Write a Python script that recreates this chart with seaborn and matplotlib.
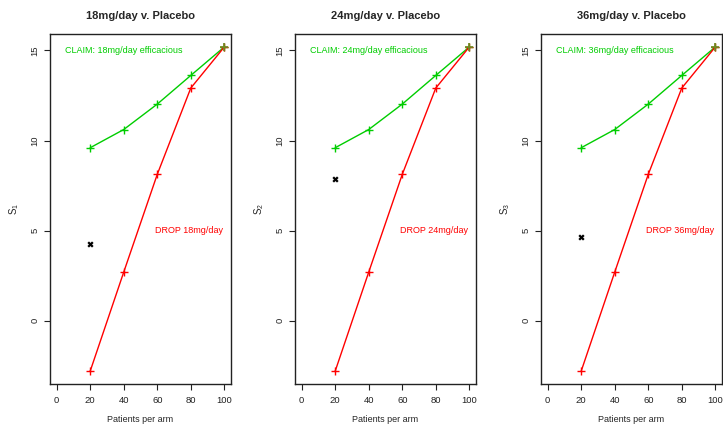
import matplotlib
matplotlib.use("Agg")
import matplotlib.pyplot as plt
import seaborn as sns
import pandas as pd

sns.set_style("ticks")
plt.rcParams['font.family'] = ['Liberation Sans', 'DejaVu Sans']

patients = [20, 40, 60, 80, 100]
claim_vals = [9.60, 10.61, 12.02, 13.61, 15.19]
drop_vals = [-2.79, 2.70, 8.12, 12.91, 15.19]
doses = ["18mg/day", "24mg/day", "36mg/day"]
observed_n = [20, 20, 20]
observed_s = [4.27, 7.89, 4.65]
ylabels = [r"$\mathregular{S_1}$", r"$\mathregular{S_2}$", r"$\mathregular{S_3}$"]
xticks = [0, 20, 40, 60, 80, 100]
yticks = [0, 5, 10, 15]

GREEN = "#00CD00"
RED = "#FF0000"

fig = plt.figure(figsize=(7.23, 4.25), dpi=100)
lefts = [50 / 723, 295 / 723, 541 / 723]
width = 181 / 723
bottom = 41 / 425
height = 350 / 425

df_claim = pd.DataFrame({"n": patients, "s": claim_vals})
df_drop = pd.DataFrame({"n": patients, "s": drop_vals})

for i, dose in enumerate(doses):
    ax = fig.add_axes([lefts[i], bottom, width, height])
    sns.lineplot(data=df_claim, x="n", y="s", ax=ax, color=GREEN, lw=1.0,
                 marker="+", markersize=6, mew=1.0, mec=GREEN)
    sns.lineplot(data=df_drop, x="n", y="s", ax=ax, color=RED, lw=1.0,
                 marker="+", markersize=6, mew=1.0, mec=RED)
    # overlap at final point (both colours)
    ax.plot([patients[-1]], [claim_vals[-1]], marker="+", color="#6B8E23",
            markersize=6, mew=1.2, ls="none")
    sns.scatterplot(x=[observed_n[i]], y=[observed_s[i]], ax=ax, marker="x",
                    color="black", s=11, linewidth=1.6)
    ax.set_xlim(-4, 104)
    ax.set_ylim(-3.51, 15.91)
    ax.set_xticks(xticks)
    ax.set_yticks(yticks)
    ax.tick_params(axis="both", labelsize=6.8, length=4.5, width=0.8,
                   colors="#222222", labelcolor="#222222", pad=3)
    ax.tick_params(axis="x", pad=4)
    for lab in ax.get_yticklabels():
        lab.set_rotation(90)
        lab.set_va("center")
    for sp in ax.spines.values():
        sp.set_visible(True)
        sp.set_linewidth(1.0)
        sp.set_color("#222222")
    ax.set_xlabel("Patients per arm", fontsize=6.5, labelpad=7)
    ax.set_ylabel(ylabels[i], fontsize=7, labelpad=7)
    ax.set_title(f"{dose} v. Placebo", fontsize=8, fontweight="bold", pad=11)
    ax.text(5, 15, f"CLAIM: {dose} efficacious", color=GREEN, fontsize=6.5,
            ha="left", va="center")
    ax.text(99.5, 5, f"DROP {dose}", color=RED, fontsize=6.5,
            ha="right", va="center")

fig.savefig("out.png", dpi=100)
